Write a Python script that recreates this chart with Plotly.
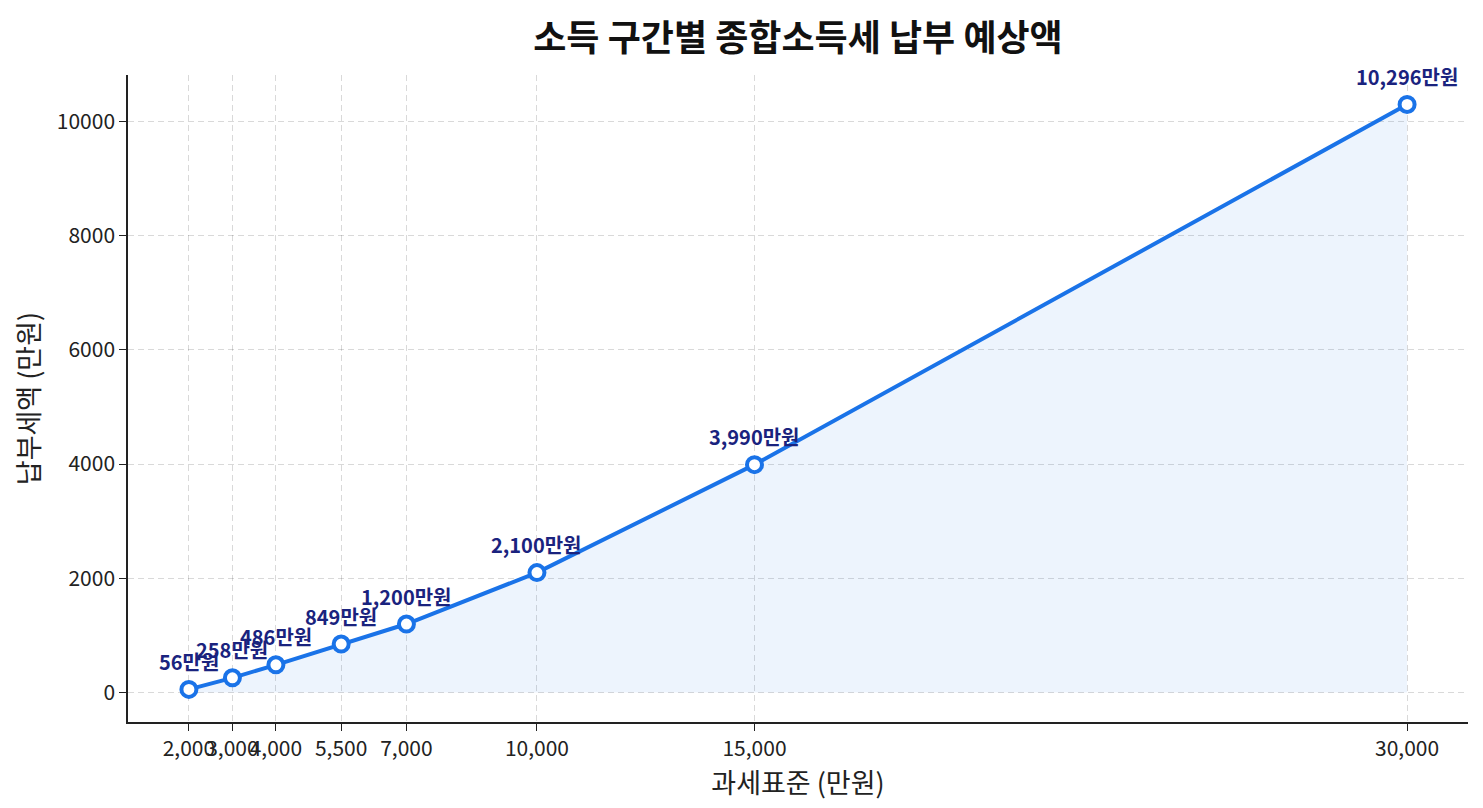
import plotly.graph_objects as go

# 과세표준 (만원) / 납부세액 (만원)
income = [2000, 3000, 4000, 5500, 7000, 10000, 15000, 30000]
tax = [56, 258, 486, 849, 1200, 2100, 3990, 10296]
x_tick_labels = [f"{v:,}" for v in income]
y_ticks = [0, 2000, 4000, 6000, 8000, 10000]

FONT = "Noto Sans CJK KR"
BLUE = "#1a73e8"
NAVY = "#1a237e"

fig = go.Figure()

# 영역 채우기 + 선 + 마커
fig.add_trace(go.Scatter(
    x=income,
    y=tax,
    mode="lines+markers",
    fill="tozeroy",
    fillcolor="rgba(26,115,232,0.08)",
    line=dict(color=BLUE, width=4),
    marker=dict(size=15, color="white", line=dict(color=BLUE, width=4)),
    showlegend=False,
    hovertemplate="%{x:,}만원<br>%{y:,}만원<extra></extra>",
))

# 값 라벨
for xv, yv in zip(income, tax):
    fig.add_annotation(
        x=xv, y=yv,
        text=f"<b>{yv:,}만원</b>",
        showarrow=False,
        yshift=28,
        font=dict(family=FONT, size=20, color=NAVY),
    )

fig.update_layout(
    width=1475,
    height=800,
    paper_bgcolor="white",
    plot_bgcolor="white",
    margin=dict(l=120, r=15, t=67, b=86, autoexpand=False),
    font=dict(family=FONT, size=20, color="#222"),
    title=dict(
        text="<b>소득 구간별 종합소득세 납부 예상액</b>",
        xref="paper",
        x=0.5,
        xanchor="center",
        y=0.962,
        yanchor="middle",
        font=dict(family=FONT, size=36, color="#111"),
    ),
    xaxis=dict(
        range=[600, 31400],
        tickvals=income,
        ticktext=x_tick_labels,
        tickangle=0,
        showline=True,
        linecolor="#222",
        linewidth=1.5,
        ticks="outside",
        ticklen=7,
        tickcolor="#222",
        showgrid=True,
        gridcolor="rgba(0,0,0,0.15)",
        griddash="6px,4px",
        zeroline=False,
        automargin=False,
        tickfont=dict(family=FONT, size=21, color="#222"),
        title=dict(text="과세표준 (만원)", font=dict(family=FONT, size=27, color="#222"), standoff=4),
    ),
    yaxis=dict(
        range=[-515, 10811],
        tickvals=y_ticks,
        tickformat="d",
        showline=True,
        linecolor="#222",
        linewidth=1.5,
        ticks="outside",
        ticklen=7,
        tickcolor="#222",
        showgrid=True,
        gridcolor="rgba(0,0,0,0.15)",
        griddash="6px,4px",
        zeroline=False,
        automargin=False,
        tickfont=dict(family=FONT, size=21, color="#222"),
        title=dict(text="납부세액 (만원)", font=dict(family=FONT, size=27, color="#222"), standoff=10),
    ),
)

fig.write_html("out.html")
